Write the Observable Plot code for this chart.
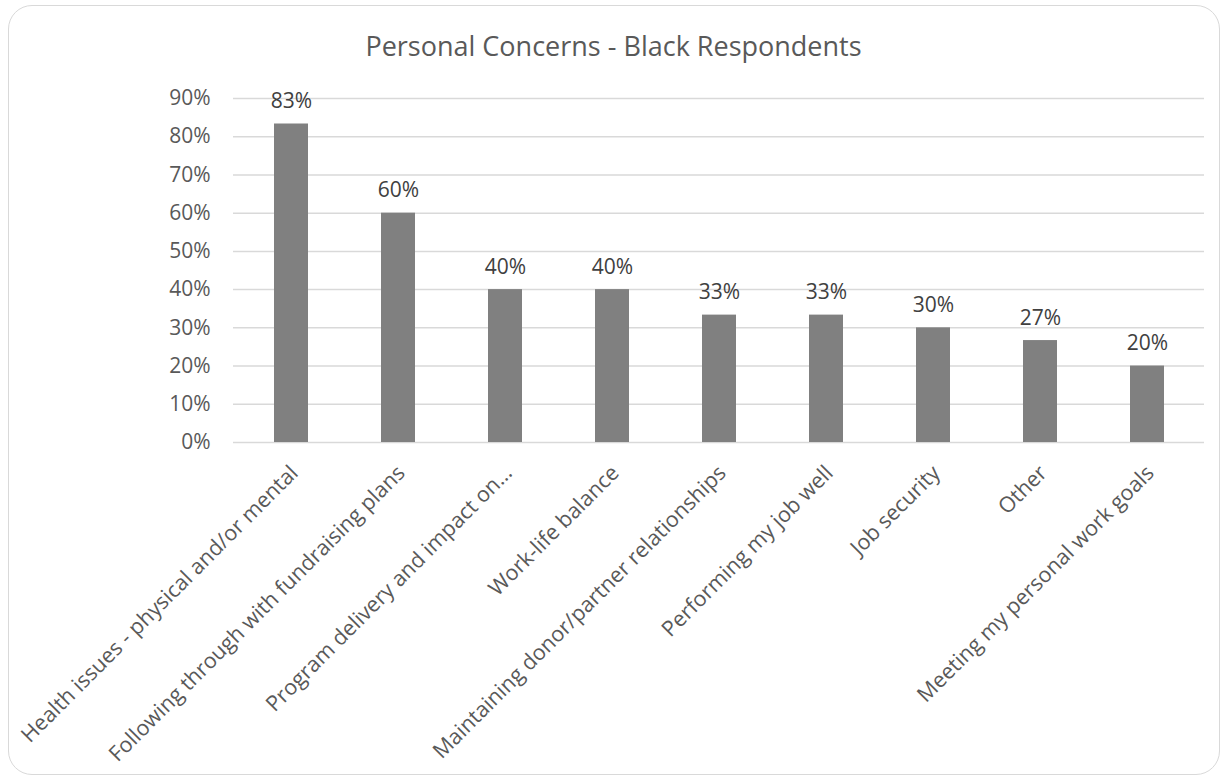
<!DOCTYPE html>
<html><head><meta charset="utf-8">
<script src="https://cdn.jsdelivr.net/npm/d3@7"></script>
<script src="https://cdn.jsdelivr.net/npm/@observablehq/plot@0.6"></script>
<style>
body{margin:0;background:#fff;}
#wrap{position:relative;width:1226px;height:777px;overflow:hidden;}
#border{position:absolute;left:8px;top:5px;width:1212px;height:770px;border:1.5px solid #d9d9d9;border-radius:24px;box-sizing:border-box;}
#chart{position:absolute;left:0;top:0;}
</style></head><body><div id="wrap"><div id="border"></div><div id="chart"></div></div>
<script>
const title = "Personal Concerns - Black Respondents";
const categories = [
  "Health issues - physical and/or mental",
  "Following through with fundraising plans",
  "Program delivery and impact on…",
  "Work-life balance",
  "Maintaining donor/partner relationships",
  "Performing my job well",
  "Job security",
  "Other",
  "Meeting my personal work goals"
];
const values = [83.33, 60, 40, 40, 33.33, 33.33, 30, 26.67, 20];
const valueLabels = ["83%", "60%", "40%", "40%", "33%", "33%", "30%", "27%", "20%"];
const yTicks = [0, 10, 20, 30, 40, 50, 60, 70, 80, 90];

const data = categories.map((c, i) => ({category: c, value: values[i], label: valueLabels[i]}));
const font = "'Open Sans', sans-serif";

const chart = Plot.plot({
  width: 1226, height: 777,
  marginTop: 98, marginBottom: 335, marginLeft: 233, marginRight: 22,
  style: {fontFamily: font, fontSize: "21px", color: "#595959", background: "transparent"},
  x: {domain: categories, paddingInner: 0.685, paddingOuter: 0.3425, label: null, axis: null},
  y: {domain: [0, 90], label: null, axis: null},
  marks: [
    Plot.gridY(yTicks, {stroke: "#d9d9d9", strokeOpacity: 1, strokeWidth: 1.5}),
    Plot.axisY(yTicks, {tickFormat: d => d + "%", tickSize: 0, tickPadding: 23, fontSize: 21, fill: "#595959", label: null}),
    Plot.barY(data, {x: "category", y: "value", fill: "#808080"}),
    Plot.text(data, {x: "category", y: "value", text: "label", lineAnchor: "bottom", dy: -16, fontSize: 21, fill: "#404040"}),
    Plot.text(data, {x: "category", y: () => 0, text: "category", rotate: -45, textAnchor: "end", lineAnchor: "top", dx: -3, dy: 21, fontSize: 21.5, fill: "#595959"}),
    Plot.text([title], {frameAnchor: "top-left", dx: 613 - 233, dy: -51, text: d => d, textAnchor: "middle", lineAnchor: "middle", fontSize: 27, fill: "#595959"})
  ]
});
document.getElementById("chart").appendChild(chart);
</script>
</body></html>
